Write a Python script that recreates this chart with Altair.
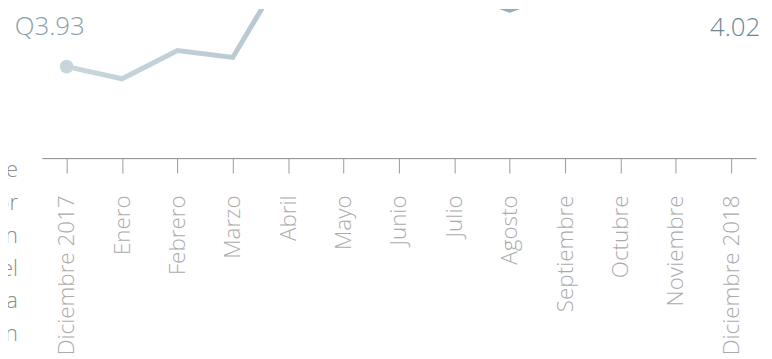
import altair as alt
import pandas as pd

months = ["Diciembre 2017", "Enero", "Febrero", "Marzo", "Abril", "Mayo", "Junio",
          "Julio", "Agosto", "Septiembre", "Octubre", "Noviembre", "Diciembre 2018"]
values = [3.93, 3.914, 3.951, 3.942, 4.064, 4.08, 4.07, 4.03, 4.004, 4.03, 4.045, 4.035, 4.02]

end_labels = ["Q3.93", "4.02"]
side_text = ["e", "or", "n", "el", "a", "n"]

df = pd.DataFrame({"mes": months, "valor": values, "orden": list(range(len(months)))})
ends = pd.DataFrame({"mes": [months[0], months[-1]],
                     "valor": [values[0], values[-1]],
                     "txt": end_labels})

FONT = "Open Sans"
x = alt.X("mes:N", sort=months, title=None,
          scale=alt.Scale(type="point", padding=0.449),
          axis=alt.Axis(labelAngle=-90, labelFontSize=22.5, labelFont=FONT, labelFontWeight=300,
                        labelColor="#ababab", labelPadding=22, tickSize=15, tickColor="#9a9a9a",
                        domainColor="#8a8a8a", grid=False, labelOverlap=False))
y = alt.Y("valor:Q", title=None, axis=None,
          scale=alt.Scale(domain=[3.81, 4.0056], zero=False, nice=False))

line = alt.Chart(df).mark_line(
    strokeWidth=5, clip=True, strokeCap="round", strokeJoin="miter",
    color=alt.Gradient(gradient="linear",
                       stops=[alt.GradientStop(color="#c9d7dd", offset=0),
                              alt.GradientStop(color="#b4c6cf", offset=0.35),
                              alt.GradientStop(color="#6f94a4", offset=1)],
                       x1=0, x2=1, y1=0, y2=0)
).encode(x=x, y=y, order="orden:Q")

pts = alt.Chart(ends).mark_point(filled=True, size=190, opacity=1, clip=True).encode(
    x=x, y=y,
    color=alt.Color("txt:N", scale=alt.Scale(domain=end_labels, range=["#c8d6dc", "#6d8f9d"]), legend=None))

lab_left = alt.Chart(ends.iloc[[0]]).mark_text(
    fontSize=26, font=FONT, fontWeight=300, color="#8a9fa8", dx=-17, dy=-32,
    baseline="alphabetic", align="center").encode(x=x, y=y, text="txt:N")
lab_right = alt.Chart(ends.iloc[[1]]).mark_text(
    fontSize=26, font=FONT, fontWeight=300, color="#6c8794", dx=4, dy=38,
    baseline="alphabetic", align="center").encode(x=x, y=y, text="txt:N")

side_df = pd.DataFrame({"t": side_text, "yy": [169, 202, 235, 268, 301, 334]})
side = alt.Chart(side_df).mark_text(
    fontSize=22, font=FONT, fontWeight=300, color="#8c8c8c", align="right",
    baseline="alphabetic").encode(x=alt.value(-24), y=alt.Y("yy:Q", scale=None), text="t:N")

chart = alt.layer(line, pts, lab_left, lab_right, side).properties(
    width=718, height=150,
    autosize=alt.AutoSizeParams(type="none"),
    padding={"left": 34, "top": 0, "right": 8, "bottom": 201},
    background="white"
).configure_view(stroke=None)

chart.save("out.html", embed_options={"renderer": "svg", "actions": False})
